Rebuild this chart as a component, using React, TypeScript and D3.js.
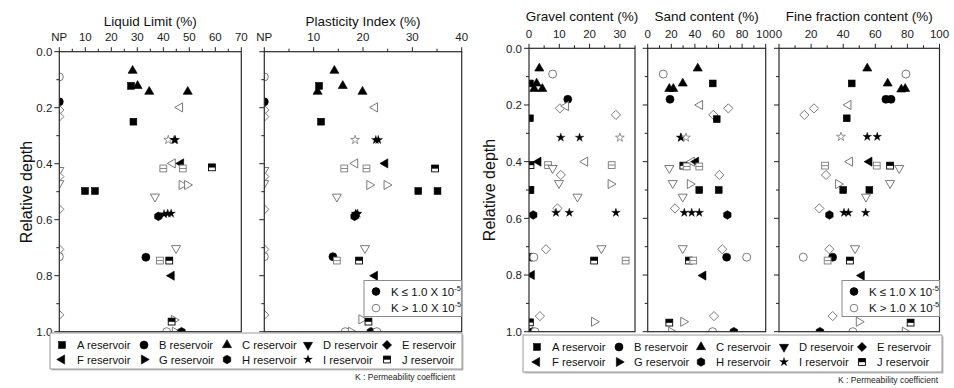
import React from 'react';
import * as d3 from 'd3';

// [reservoir, filled (K <= 1e-5), value, relative depth]
type Pt = [string, number, number, number];

const reservoirs = ['A', 'B', 'C', 'D', 'E', 'F', 'G', 'H', 'I', 'J'];

const llPoints: Pt[] = [
  ['B', 0, 0, 0.09], ['C', 1, 28.2, 0.068], ['A', 1, 27.6, 0.122], ['C', 1, 30.1, 0.122],
  ['C', 1, 34.6, 0.143], ['C', 1, 49.4, 0.143], ['B', 1, 0, 0.179], ['F', 0, 46.4, 0.199],
  ['E', 0, 0, 0.208], ['E', 0, 0, 0.232], ['A', 1, 28.5, 0.25], ['I', 0, 41.9, 0.315],
  ['I', 1, 44.2, 0.315], ['I', 1, 44.6, 0.315], ['F', 0, 43.6, 0.399], ['F', 1, 46.8, 0.399],
  ['J', 0, 40, 0.417], ['J', 0, 47.5, 0.417], ['J', 1, 58.7, 0.413], ['D', 0, 0, 0.423],
  ['E', 0, 0, 0.446], ['D', 0, 0, 0.47], ['G', 0, 47.1, 0.476], ['G', 0, 49.2, 0.476],
  ['A', 1, 9.9, 0.4975], ['A', 1, 13.7, 0.4975], ['D', 0, 36.8, 0.518], ['E', 0, 0, 0.563],
  ['H', 1, 38.1, 0.588], ['I', 1, 40.3, 0.58], ['I', 1, 41.7, 0.578], ['I', 1, 43, 0.578],
  ['D', 0, 44.9, 0.702], ['E', 0, 0, 0.706], ['B', 0, 0, 0.732], ['B', 1, 33.3, 0.734],
  ['J', 0, 38.7, 0.746], ['J', 1, 42.3, 0.746], ['F', 1, 43.2, 0.8], ['E', 0, 0, 0.94],
  ['G', 0, 44.1, 0.958], ['J', 1, 43.2, 0.964], ['B', 0, 41.3, 1.0], ['G', 0, 44.5, 1.0],
  ['H', 1, 47, 1.0],
];

const piPoints: Pt[] = [
  ['B', 0, 0, 0.09], ['C', 1, 14.2, 0.068], ['A', 1, 11.1, 0.122], ['C', 1, 10.8, 0.143],
  ['C', 1, 15.9, 0.122], ['C', 1, 19.9, 0.143], ['B', 1, 0, 0.179], ['F', 0, 22.4, 0.199],
  ['E', 0, 0, 0.208], ['E', 0, 0, 0.232], ['A', 1, 11.5, 0.25], ['I', 0, 18.4, 0.315],
  ['I', 1, 22.6, 0.315], ['I', 1, 23.1, 0.315], ['F', 0, 18.4, 0.399], ['F', 1, 24.5, 0.399],
  ['J', 0, 16.2, 0.417], ['J', 0, 20.7, 0.417], ['J', 1, 34.6, 0.417], ['D', 0, 0, 0.423],
  ['E', 0, 0, 0.446], ['D', 0, 0, 0.47], ['G', 0, 21.3, 0.476], ['G', 0, 24.8, 0.476],
  ['A', 1, 31.2, 0.4975], ['A', 1, 35.1, 0.4975], ['D', 0, 14.7, 0.518], ['E', 0, 0, 0.563],
  ['H', 1, 18.3, 0.588], ['I', 1, 18.5, 0.578], ['I', 1, 18.9, 0.578], ['I', 1, 18.7, 0.582],
  ['D', 0, 20.4, 0.702], ['E', 0, 0, 0.706], ['B', 0, 0, 0.732], ['B', 1, 13.9, 0.732],
  ['J', 0, 14.7, 0.746], ['J', 1, 19.2, 0.746], ['F', 1, 22.4, 0.8], ['E', 0, 0, 0.94],
  ['G', 0, 19.7, 0.956], ['J', 1, 21.1, 0.964], ['B', 0, 16.4, 1.0], ['G', 0, 17.6, 1.0],
  ['H', 1, 21.6, 1.0], ['B', 0, 22.8, 1.0],
];

const gravelPoints: Pt[] = [
  ['C', 1, 3.4, 0.071], ['B', 0, 7.8, 0.091], ['A', 1, 0.3, 0.124], ['C', 1, 2.5, 0.124],
  ['C', 1, 1.7, 0.143], ['C', 1, 4.4, 0.143], ['B', 1, 12.8, 0.18], ['E', 0, 10.2, 0.212],
  ['F', 0, 12.2, 0.204], ['E', 0, 28.7, 0.235], ['A', 1, 0.3, 0.247], ['I', 1, 10.5, 0.315],
  ['I', 1, 16.7, 0.315], ['I', 0, 30, 0.315], ['F', 1, 3.1, 0.4], ['J', 1, 0.5, 0.412],
  ['J', 0, 6.3, 0.412], ['D', 0, 7.8, 0.423], ['F', 0, 18.5, 0.4], ['J', 0, 27.3, 0.412],
  ['E', 0, 10.5, 0.447], ['D', 0, 9.9, 0.476], ['G', 0, 27, 0.479], ['A', 1, 0.5, 0.5],
  ['A', 1, 0.2, 0.5], ['D', 0, 16, 0.524], ['E', 0, 9.4, 0.565], ['H', 1, 1.4, 0.588],
  ['I', 1, 8.9, 0.58], ['I', 1, 13.3, 0.58], ['I', 1, 28.7, 0.58], ['E', 0, 5.6, 0.709],
  ['D', 0, 23.9, 0.706], ['B', 1, 0.8, 0.737], ['B', 0, 1.6, 0.737], ['J', 1, 21.5, 0.749],
  ['J', 0, 31.9, 0.749], ['F', 1, 0.9, 0.8], ['E', 0, 3.6, 0.945], ['G', 0, 21.5, 0.965],
  ['J', 1, 0.3, 0.967], ['G', 0, 0.5, 1.0], ['H', 1, 1.2, 1.0], ['B', 0, 2, 1.0],
];

const sandPoints: Pt[] = [
  ['B', 0, 13.2, 0.091], ['C', 1, 42.4, 0.071], ['A', 1, 55.1, 0.124], ['C', 1, 29.7, 0.124],
  ['C', 1, 18.3, 0.143], ['C', 1, 21.7, 0.143], ['B', 1, 18.9, 0.18], ['F', 0, 44.3, 0.2],
  ['E', 0, 68.3, 0.212], ['E', 0, 55.6, 0.235], ['A', 1, 58.5, 0.25], ['I', 1, 28, 0.315],
  ['I', 1, 28.3, 0.315], ['I', 0, 32.5, 0.315], ['F', 0, 37.3, 0.4], ['F', 1, 40.9, 0.4],
  ['J', 1, 30.2, 0.414], ['J', 0, 33, 0.417], ['J', 0, 43.7, 0.417], ['D', 0, 18.3, 0.423],
  ['E', 0, 60.7, 0.447], ['D', 0, 21.2, 0.476], ['G', 0, 35.8, 0.479], ['A', 1, 43.7, 0.5],
  ['A', 1, 60.2, 0.5], ['D', 0, 29.7, 0.524], ['E', 0, 23.1, 0.565], ['I', 1, 31, 0.58],
  ['I', 1, 37.3, 0.58], ['I', 1, 43.7, 0.58], ['H', 1, 67.5, 0.588], ['D', 0, 29.7, 0.706],
  ['E', 0, 63.2, 0.709], ['B', 1, 66.9, 0.737], ['B', 0, 83.9, 0.737], ['J', 1, 35, 0.749],
  ['J', 0, 38.6, 0.749], ['F', 1, 47.1, 0.802], ['E', 0, 56.2, 0.945], ['G', 0, 30.2, 0.965],
  ['J', 1, 18.3, 0.968], ['G', 0, 20, 1.0], ['B', 0, 55, 1.0], ['H', 1, 73, 1.0],
];

const finesPoints: Pt[] = [
  ['C', 1, 55, 0.071], ['B', 0, 79.1, 0.091], ['A', 1, 45.3, 0.124], ['C', 1, 67.7, 0.124],
  ['C', 1, 76.2, 0.145], ['C', 1, 78.6, 0.143], ['B', 1, 66.6, 0.18], ['B', 1, 69.8, 0.18],
  ['F', 0, 43.2, 0.2], ['E', 0, 21.8, 0.212], ['E', 0, 15.8, 0.235], ['A', 1, 42.2, 0.247],
  ['I', 0, 38.6, 0.312], ['I', 1, 55, 0.312], ['I', 1, 61.2, 0.312], ['F', 0, 44.2, 0.4],
  ['F', 1, 56.3, 0.4], ['J', 0, 28.7, 0.414], ['J', 0, 60.9, 0.414], ['J', 1, 69.2, 0.414],
  ['D', 0, 74.9, 0.423], ['E', 0, 29.3, 0.447], ['G', 0, 36.9, 0.479], ['D', 0, 69.2, 0.476],
  ['A', 1, 40, 0.5], ['A', 1, 56.3, 0.5], ['D', 0, 54.2, 0.524], ['E', 0, 25.1, 0.565],
  ['H', 1, 31.4, 0.588], ['I', 1, 40.5, 0.58], ['I', 1, 43.2, 0.58], ['I', 1, 54, 0.58],
  ['E', 0, 31.4, 0.709], ['D', 0, 47.4, 0.706], ['B', 0, 15.1, 0.737], ['B', 1, 33.4, 0.737],
  ['J', 0, 30.3, 0.749], ['J', 1, 44.2, 0.749], ['F', 1, 51.5, 0.802], ['E', 0, 33.4, 0.945],
  ['G', 0, 49.8, 0.965], ['J', 1, 82, 0.968], ['H', 1, 25.5, 1.0], ['B', 0, 46, 1.0],
  ['G', 0, 78.5, 1.0],
];

const llTickValues = [0, 10, 20, 30, 40, 50, 60, 70];
const llTickLabels = ['NP', '10', '20', '30', '40', '50', '60', '70'];
const piTickValues = [0, 10, 20, 30, 40];
const piTickLabels = ['NP', '10', '20', '30', '40'];
const gravelTickValues = [0, 10, 20, 30];
const pctTickValues = [0, 20, 40, 60, 80, 100];
const depthTicks = [0, 0.2, 0.4, 0.6, 0.8, 1.0];

const FONT = 'Liberation Sans, Arial, Helvetica, sans-serif';
const OPEN = '#7a7a7a';

function hexPath(r: number) {
  const pts = d3.range(6).map((i) => {
    const a = (Math.PI / 3) * i - Math.PI / 2;
    return [r * Math.cos(a), r * Math.sin(a)];
  });
  return 'M' + pts.map((p) => p.join(',')).join('L') + 'Z';
}

const triPath = d3.symbol(d3.symbolTriangle, 36)() as string;
const starPath = d3.symbol(d3.symbolStar, 24)() as string;
const diamondPath = 'M0,-4.6L4.6,0L0,4.6L-4.6,0Z';

function Marker({ r, f, x, y }: { r: string; f: number; x: number; y: number }) {
  const fill = f ? '#000' : '#fff';
  const stroke = f ? '#000' : OPEN;
  const sw = f ? 0.6 : 1;
  const t = `translate(${x},${y})`;
  switch (r) {
    case 'A':
      return <rect x={x - 3.4} y={y - 3.4} width={6.8} height={6.8} fill={fill} stroke={stroke} strokeWidth={sw} />;
    case 'B':
      return <circle cx={x} cy={y} r={4} fill={fill} stroke={stroke} strokeWidth={sw} />;
    case 'C':
      return <path d={triPath} transform={t} fill={fill} stroke={stroke} strokeWidth={sw} />;
    case 'D':
      return <path d={triPath} transform={`${t} rotate(180)`} fill={fill} stroke={stroke} strokeWidth={sw} />;
    case 'E':
      return <path d={diamondPath} transform={t} fill={fill} stroke={stroke} strokeWidth={sw} />;
    case 'F':
      return <path d={triPath} transform={`${t} rotate(-90)`} fill={fill} stroke={stroke} strokeWidth={sw} />;
    case 'G':
      return <path d={triPath} transform={`${t} rotate(90)`} fill={fill} stroke={stroke} strokeWidth={sw} />;
    case 'H':
      return <path d={hexPath(4.3)} transform={t} fill={fill} stroke={stroke} strokeWidth={sw} />;
    case 'I':
      return <path d={starPath} transform={t} fill={fill} stroke={stroke} strokeWidth={f ? 0.3 : 0.8} />;
    case 'J':
      if (f) {
        return (
          <g>
            <rect x={x - 3.4} y={y - 3.4} width={6.8} height={6.8} fill="#fff" stroke="#000" strokeWidth={0.9} />
            <rect x={x - 3.4} y={y - 3.4} width={6.8} height={3.6} fill="#000" />
          </g>
        );
      }
      return (
        <g>
          <rect x={x - 3.4} y={y - 3.4} width={6.8} height={6.8} fill="#fff" stroke={OPEN} strokeWidth={0.9} />
          <line x1={x - 3.4} x2={x + 3.4} y1={y} y2={y} stroke={OPEN} strokeWidth={0.9} />
        </g>
      );
    default:
      return null;
  }
}

type PanelCfg = {
  id: string;
  title: string;
  data: Pt[];
  domain: [number, number];
  x0: number;
  x1: number;
  y0: number;
  y1: number;
  tickValues: number[];
  tickLabels: string[];
  minorStep: number;
  yLabels: boolean;
  titleY: number;
  tickLabelY: number;
};

const panels: PanelCfg[] = [
  { id: 'll', title: 'Liquid Limit (%)', data: llPoints, domain: [0, 70], x0: 59.3, x1: 241.3, y0: 51.7, y1: 331.7,
    tickValues: llTickValues, tickLabels: llTickLabels, minorStep: 5, yLabels: true, titleY: 26, tickLabelY: 41 },
  { id: 'pi', title: 'Plasticity Index (%)', data: piPoints, domain: [0, 40], x0: 264.3, x1: 461.7, y0: 51.7, y1: 331.7,
    tickValues: piTickValues, tickLabels: piTickLabels, minorStep: 5, yLabels: false, titleY: 26, tickLabelY: 41 },
  { id: 'gr', title: 'Gravel content (%)', data: gravelPoints, domain: [0, 35], x0: 529, x1: 635, y0: 48.3, y1: 331.7,
    tickValues: gravelTickValues, tickLabels: gravelTickValues.map(String), minorStep: 5, yLabels: true, titleY: 20.5, tickLabelY: 37.5 },
  { id: 'sa', title: 'Sand content (%)', data: sandPoints, domain: [0, 100], x0: 647.7, x1: 765.7, y0: 48.3, y1: 331.7,
    tickValues: pctTickValues, tickLabels: pctTickValues.map(String), minorStep: 10, yLabels: false, titleY: 20.5, tickLabelY: 37.5 },
  { id: 'fi', title: 'Fine fraction content (%)', data: finesPoints, domain: [0, 100], x0: 779, x1: 939.5, y0: 48.3, y1: 331.7,
    tickValues: pctTickValues, tickLabels: pctTickValues.map(String), minorStep: 10, yLabels: false, titleY: 20.5, tickLabelY: 37.5 },
];

function Panel({ p }: { p: PanelCfg }) {
  const x = d3.scaleLinear().domain(p.domain).range([p.x0, p.x1]);
  const y = d3.scaleLinear().domain([0, 1]).range([p.y0, p.y1]);
  const minor = d3.range(p.domain[0], p.domain[1] + 0.001, p.minorStep);
  const yMinor = d3.range(0, 1.001, 0.1);
  return (
    <g>
      <defs>
        <clipPath id={`clip-${p.id}`}>
          <rect x={p.x0} y={p.y0} width={p.x1 - p.x0} height={p.y1 - p.y0} />
        </clipPath>
      </defs>
      <text x={(p.x0 + p.x1) / 2} y={p.titleY} textAnchor="middle" fontSize={13.5} fontFamily={FONT} fill="#111">
        {p.title}
      </text>
      {p.tickValues.map((v, i) => (
        <text key={'tl' + i} x={x(v)} y={p.tickLabelY} textAnchor="middle" fontSize={11.5} fontFamily={FONT} fill="#222">
          {p.tickLabels[i]}
        </text>
      ))}
      {minor.map((v, i) => {
        const major = p.tickValues.some((t) => Math.abs(t - v) < 1e-6);
        return <line key={'tx' + i} x1={x(v)} x2={x(v)} y1={p.y0} y2={p.y0 - (major ? 4.5 : 3)} stroke="#222" strokeWidth={1} />;
      })}
      {yMinor.map((v, i) => {
        const major = i % 2 === 0;
        return <line key={'ty' + i} x1={p.x0} x2={p.x0 - (major ? 5 : 3)} y1={y(v)} y2={y(v)} stroke="#222" strokeWidth={1} />;
      })}
      {p.yLabels &&
        depthTicks.map((v, i) => (
          <text key={'yl' + i} x={p.x0 - 7} y={y(v) + 4.2} textAnchor="end" fontSize={11.5} fontFamily={FONT} fill="#222">
            {v.toFixed(1)}
          </text>
        ))}
      <g clipPath={`url(#clip-${p.id})`}>
        {p.data.map((d, i) => (
          <Marker key={i} r={d[0]} f={d[1]} x={x(d[2])} y={y(d[3])} />
        ))}
      </g>
      <rect x={p.x0} y={p.y0} width={p.x1 - p.x0} height={p.y1 - p.y0} fill="none" stroke="#2a2a2a" strokeWidth={1.2} />
    </g>
  );
}

function KLegend({ x, y, w }: { x: number; y: number; w: number }) {
  const rows = [1, 0];
  return (
    <g>
      <rect x={x} y={y} width={w} height={36} fill="#fff" stroke="#8a8a8a" strokeWidth={1} />
      {rows.map((f, i) => (
        <g key={i}>
          <circle cx={x + 12} cy={y + 11 + i * 16.6} r={3.8} fill={f ? '#000' : '#fff'} stroke={f ? '#000' : OPEN} strokeWidth={1} />
          <text x={x + 27} y={y + 15.2 + i * 16.6} fontSize={11.5} fontFamily={FONT} fill="#111">
            {f ? 'K \u2264 1.0 X 10' : 'K > 1.0 X 10'}
            <tspan dy={-5} fontSize={7.5}>-5</tspan>
          </text>
        </g>
      ))}
    </g>
  );
}

function ResLegend({ x, y, w, h, markerXs, rowYs }: { x: number; y: number; w: number; h: number; markerXs: number[]; rowYs: number[] }) {
  return (
    <g>
      <rect x={x + 1.5} y={y + 1.5} width={w} height={h} fill="#bdbdbd" />
      <rect x={x} y={y} width={w} height={h} fill="#fff" stroke="#9a9a9a" strokeWidth={1} />
      {reservoirs.map((r, i) => {
        const col = i % 5;
        const row = Math.floor(i / 5);
        const mx = markerXs[col];
        const my = rowYs[row];
        return (
          <g key={r}>
            <Marker r={r} f={1} x={mx} y={my} />
            <text x={mx + 15} y={my + 4.2} fontSize={11.2} fontFamily={FONT} fill="#111">
              {r} reservoir
            </text>
          </g>
        );
      })}
    </g>
  );
}

export default function App() {
  return (
    <svg width={954} height={388} style={{ position: 'absolute', left: 0, top: 0, background: '#fff' }}>
      <rect x={0} y={0} width={954} height={388} fill="#fff" />
      {panels.map((p) => (
        <Panel key={p.id} p={p} />
      ))}
      <text transform="translate(32,192) rotate(-90)" textAnchor="middle" fontSize={16} fontFamily={FONT} fill="#111">
        Relative depth
      </text>
      <text transform="translate(495,190) rotate(-90)" textAnchor="middle" fontSize={16} fontFamily={FONT} fill="#111">
        Relative depth
      </text>
      <KLegend x={364} y={280.5} w={97.7} />
      <KLegend x={842} y={280.5} w={97.5} />
      <ResLegend x={50} y={333} w={412} h={36} markerXs={[62, 144, 227, 308, 387]} rowYs={[345, 359.5]} />
      <ResLegend x={523} y={335} w={419} h={37} markerXs={[537, 619, 701, 784, 862]} rowYs={[347, 362]} />
      <text x={455} y={380} textAnchor="end" fontSize={8.5} fontFamily={FONT} fill="#222">
        K : Permeability coefficient
      </text>
      <text x={938} y={383} textAnchor="end" fontSize={8.5} fontFamily={FONT} fill="#222">
        K : Permeability coefficient
      </text>
    </svg>
  );
}
